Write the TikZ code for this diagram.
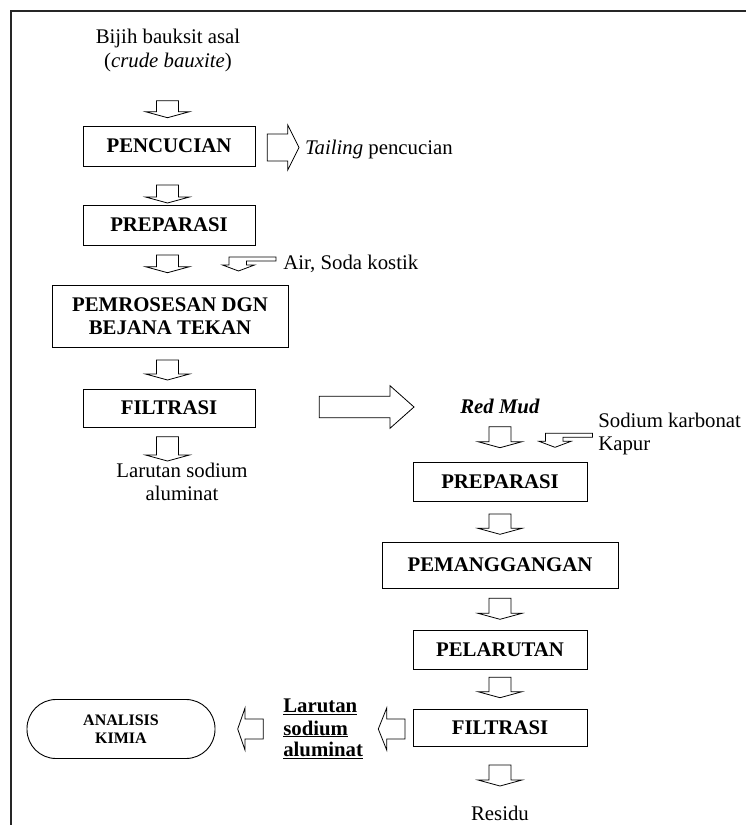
\documentclass[tikz,border=0pt]{standalone}
\usepackage{fontspec}
\setmainfont{Liberation Serif}
% hollow block arrows
\newcommand\DArr[3]{% centre x, top y, shaft length
  \draw[blk] (#1-11,#2) -- (#1+11,#2) -- (#1+11,#2+#3) -- (#1+22,#2+#3) -- (#1,#2+#3+6) -- (#1-22,#2+#3) -- (#1-11,#2+#3) -- cycle;}
\newcommand\HArr[6]{% shaft start x, head base x, tip x, centre y, shaft half height, head half height
  \draw[blk] (#1,#4-#5) -- (#2,#4-#5) -- (#2,#4-#6) -- (#3,#4) -- (#2,#4+#6) -- (#2,#4+#5) -- (#1,#4+#5) -- cycle;}
\newcommand\BArr[2]{% bent arrow, tip x, tip y
  \draw[blk] (#1+37.5,#2-14) -- (#1-9.5,#2-14) -- (#1-9.5,#2-6) -- (#1-16,#2-6) -- (#1,#2) -- (#1+16,#2-6) -- (#1+8,#2-6) -- (#1+8,#2-10) -- (#1+37.5,#2-10) -- cycle;}
\begin{document}
\begin{tikzpicture}[x=1pt,y=-1pt,
  every node/.style={inner sep=0pt, outer sep=0pt},
  txt/.style={font=\fontsize{20.8pt}{23pt}\selectfont, anchor=base},
  txtw/.style={font=\fontsize{20.8pt}{23pt}\selectfont, anchor=base west},
  box/.style={draw, line width=0.8pt, font=\fontsize{20.8pt}{23pt}\selectfont\bfseries, align=center},
  term/.style={draw, line width=0.9pt, rounded corners=29pt, font=\fontsize{16pt}{17.5pt}\selectfont\bfseries, align=center},
  blk/.style={draw, line width=0.8pt, line join=miter},
  frame/.style={draw, line width=1.6pt, color=black!85}
]
\useasboundingbox (0,0) rectangle (746,825);
\draw[frame] (11,825) -- (11,11) -- (746,11);

% ---- left column
\node[txt] (src1) at (168,43.3) {Bijih bauksit asal};
\node[txt] (src2) at (168,67) {(\textit{crude bauxite})};
\DArr{167.5}{100.7}{11}
\node[box, minimum width=172pt, minimum height=40pt] (pencucian) at (169,146) {PENCUCIAN};
\HArr{267.3}{287.7}{299}{147.5}{13.5}{22.5}
\node[txtw] (tailing) at (305,154) {\textit{Tailing} pencucian};
\DArr{167.5}{185}{12}
\node[box, minimum width=172pt, minimum height=40pt] (prep1) at (169,225) {PREPARASI};
\DArr{167.5}{255}{11.7}
\BArr{238.5}{271}
\node[txtw] (air) at (283.3,269) {Air, Soda kostik};
\node[box, minimum width=236pt, minimum height=62pt] (pemros) at (170,316) {PEMROSESAN DGN\\BEJANA TEKAN};
\DArr{167.5}{360}{14}
\node[box, minimum width=172pt, minimum height=38pt] (filt1) at (169,408) {FILTRASI};
\DArr{167.5}{436.7}{18.3}
\node[txt] (lsa1) at (182,477.3) {Larutan sodium};
\node[txt] (lsa2) at (182,500) {aluminat};
\HArr{319.3}{390}{414}{407}{10.8}{21.3}

% ---- right column
\node[txt] (redmud) at (500,413.3) {\textbf{\textit{Red Mud}}};
\node[txtw] (sodium) at (598.3,427) {Sodium karbonat};
\node[txtw] (kapur) at (598.3,450) {Kapur};
\DArr{500}{426.7}{15}
\BArr{555}{447.3}
\node[box, minimum width=174pt, minimum height=39pt] (prep2) at (500,481.5) {PREPARASI};
\DArr{500}{514}{14.3}
\node[box, minimum width=236pt, minimum height=46pt] (pemang) at (500,565) {PEMANGGANGAN};
\DArr{500}{598.3}{15}
\node[box, minimum width=174pt, minimum height=39pt] (pelar) at (500,649.5) {PELARUTAN};
\DArr{500}{677.3}{14.4}
\node[box, minimum width=174pt, minimum height=37pt] (filt2) at (500,727.5) {FILTRASI};
\DArr{500}{765}{15}
\node[txt] (residu) at (500,820) {Residu};

% ---- bottom left
\HArr{405}{386.7}{378.3}{729}{10}{21}
\node[txtw] (lar1) at (283.3,712.7) {\underline{\textbf{Larutan}}};
\node[txtw] (lar2) at (283.3,735) {\underline{\textbf{sodium}}};
\node[txtw] (lar3) at (283.3,756.7) {\underline{\textbf{aluminat}}};
\HArr{263.3}{245}{237.7}{729}{10}{21}
\node[term, minimum width=188pt, minimum height=59pt] (analisis) at (121,729) {ANALISIS\\KIMIA};
\end{tikzpicture}
\end{document}
